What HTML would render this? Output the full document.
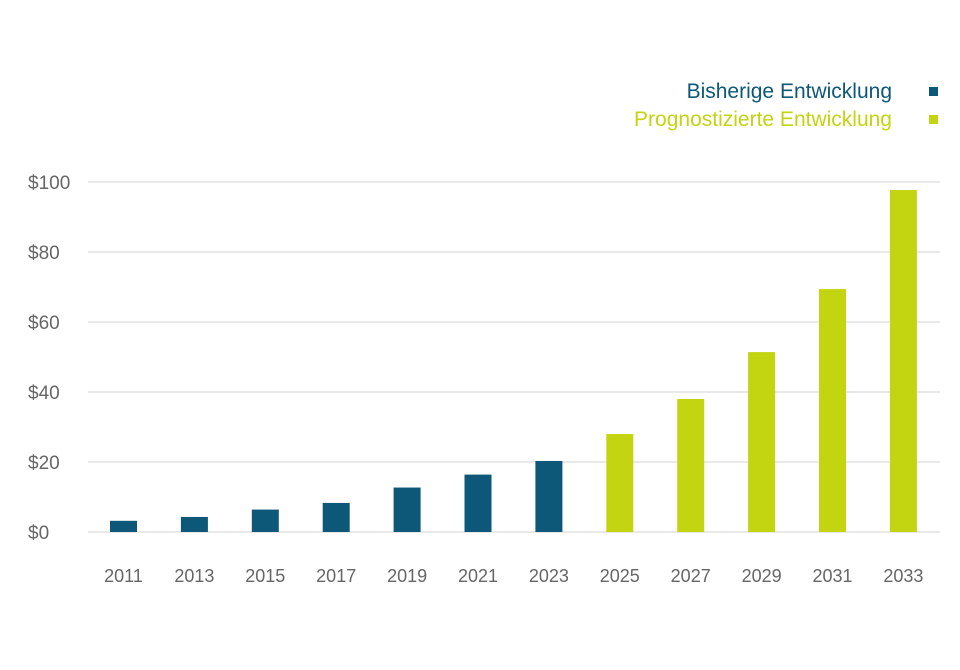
<!DOCTYPE html>
<html><head><meta charset="utf-8"><style>
body{margin:0;background:#fff;}
svg{display:block;font-family:"Liberation Sans",sans-serif;}
</style></head><body>
<svg id="chart" width="960" height="670">
<g>
<text x="892" y="98" text-anchor="end" font-size="21" fill="#0d5878">Bisherige Entwicklung</text>
<rect x="929" y="87" width="9" height="9" fill="#0d5878"/>
<text x="892" y="126" text-anchor="end" font-size="21" fill="#c3d411">Prognostizierte Entwicklung</text>
<rect x="929" y="115" width="9" height="9" fill="#c3d411"/>
</g>
<g id="grid"></g><g id="bars"></g><g id="xlabels"></g>
</svg>
<script>
const years=["2011","2013","2015","2017","2019","2021","2023","2025","2027","2029","2031","2033"];
const values=[3.2,4.3,6.4,8.3,12.7,16.4,20.3,28,38,51.4,69.4,97.7];
const forecast=[false,false,false,false,false,false,false,true,true,true,true,true];
const yTicks=[0,20,40,60,80,100];
const yTickLabels=["$0","$20","$40","$60","$80","$100"];
const NS="http://www.w3.org/2000/svg";
const y=v=>532-v*3.5;
const x=i=>123.5+i*70.9;
const grid=document.getElementById('grid');
yTicks.forEach((t,i)=>{
 const l=document.createElementNS(NS,'line');
 l.setAttribute('x1',88);l.setAttribute('x2',940);l.setAttribute('y1',y(t));l.setAttribute('y2',y(t));
 l.setAttribute('stroke','#e2e2e2');l.setAttribute('stroke-width','1.5');
 
 
 grid.appendChild(l);
 const tx=document.createElementNS(NS,'text');
 tx.setAttribute('x',28);tx.setAttribute('y',y(t)+7);tx.setAttribute('font-size','19');tx.setAttribute('fill','#666');
 tx.textContent=yTickLabels[i];
 
 
 grid.appendChild(tx);
});
const bars=document.getElementById('bars'),xl=document.getElementById('xlabels');
years.forEach((yr,i)=>{
 const r=document.createElementNS(NS,'rect');
 r.setAttribute('x',x(i)-13.5);r.setAttribute('width',27);
 r.setAttribute('y',y(values[i]));r.setAttribute('height',532-y(values[i]));
 r.setAttribute('fill',forecast[i]?'#c3d411':'#0d5878');
 
 
 bars.appendChild(r);
 const t=document.createElementNS(NS,'text');
 t.setAttribute('x',x(i));t.setAttribute('y',582);t.setAttribute('text-anchor','middle');
 t.setAttribute('font-size','18');t.setAttribute('fill','#666');t.textContent=yr;
 
 
 xl.appendChild(t);
});
</script>
</body></html>
